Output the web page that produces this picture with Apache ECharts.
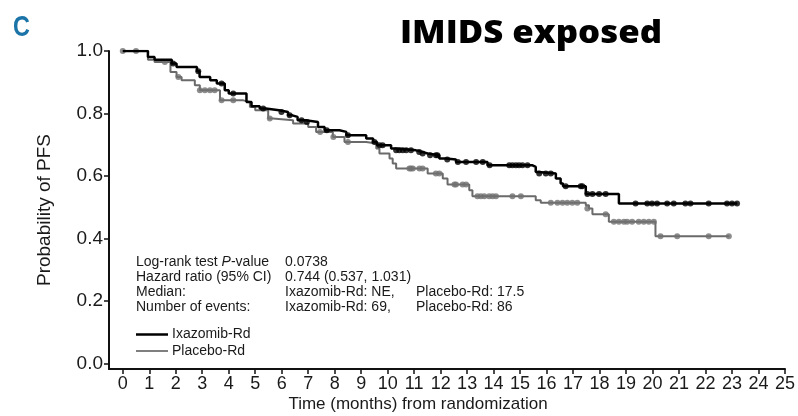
<!DOCTYPE html>
<html><head><meta charset="utf-8">
<script src="https://cdn.jsdelivr.net/npm/echarts@6/dist/echarts.min.js"></script>
<style>html,body{margin:0;padding:0;background:#fff}#c{width:798px;height:416px}</style>
</head><body><div id="c"></div>
<script>
// ---- data ----
const xTicks = [0,1,2,3,4,5,6,7,8,9,10,11,12,13,14,15,16,17,18,19,20,21,22,23,24,25];
const yTicks = [0, 0.2, 0.4, 0.6, 0.8, 1.0];

// Ixazomib-Rd KM steps
const ixaTimes = [0,0.95,1.2,1.85,2.03,2.8,2.9,3.3,3.55,3.85,4.0,4.67,4.86,5.17,5.4,5.9,6.24,6.4,6.6,6.9,7.37,7.62,8.18,8.44,9.19,9.45,9.6,10.13,10.3,11.07,11.3,11.51,11.95,12.2,12.58,13.77,15.47,15.59,15.7,16.35,16.53,16.62,17.48,18.73,23.2];
const ixaSurv  = [1.0,0.981,0.972,0.960,0.949,0.935,0.917,0.906,0.896,0.874,0.864,0.837,0.823,0.816,0.810,0.805,0.794,0.789,0.778,0.773,0.757,0.746,0.741,0.730,0.720,0.709,0.698,0.688,0.682,0.677,0.672,0.666,0.656,0.653,0.645,0.634,0.629,0.613,0.608,0.592,0.576,0.567,0.542,0.512,0.512];
// Ixazomib-Rd censor marks
const ixaCensT = [1.9,2.85,3.73,4.17,5.3,5.99,6.3,6.75,6.95,7.7,8.5,9.5,9.69,9.81,10.32,10.44,10.57,10.7,10.88,11.19,11.32,11.6,11.82,11.88,12.25,12.65,12.96,13.34,13.59,13.85,14.59,14.71,14.84,14.96,15.09,15.28,15.72,15.97,16.16,16.72,17.29,17.35,17.54,17.73,17.98,18.23,19.36,19.8,19.98,20.17,20.55,20.8,21.24,21.43,22.12,22.81,23.0,23.19];
const ixaCensS = [0.960,0.935,0.896,0.864,0.816,0.805,0.794,0.778,0.773,0.746,0.730,0.709,0.698,0.698,0.682,0.682,0.682,0.682,0.682,0.677,0.672,0.666,0.666,0.666,0.653,0.645,0.645,0.645,0.645,0.634,0.634,0.634,0.634,0.634,0.634,0.634,0.608,0.608,0.608,0.567,0.567,0.567,0.542,0.542,0.542,0.542,0.512,0.512,0.512,0.512,0.512,0.512,0.512,0.512,0.512,0.512,0.512,0.512];

// Placebo-Rd KM steps
const placTimes = [0,0.95,1.2,1.8,2.03,2.22,2.72,2.91,3.67,4.55,4.8,5.0,5.49,5.67,6.43,7.0,7.3,7.93,8.37,9.19,9.57,9.69,10.07,10.19,10.32,11.51,12.08,12.26,13.08,13.2,15.59,15.78,17.48,17.6,17.73,18.35,20.11,22.9];
const placSurv  = [1.0,0.972,0.965,0.933,0.917,0.906,0.890,0.874,0.842,0.837,0.821,0.810,0.784,0.778,0.768,0.757,0.741,0.725,0.709,0.704,0.688,0.672,0.656,0.640,0.624,0.608,0.592,0.573,0.554,0.535,0.522,0.514,0.506,0.496,0.477,0.453,0.407,0.407];
// Placebo-Rd censor marks
const placCensT = [0,0.5,1.59,2.1,2.91,3.1,3.29,3.47,3.73,4.17,5.55,7.45,7.95,8.5,10.82,10.88,10.95,11.2,11.32,11.82,11.95,12.52,12.58,12.83,12.96,13.39,13.52,13.65,13.83,13.96,14.09,14.71,15.03,16.16,16.41,16.6,16.78,16.97,17.16,17.54,18.23,18.54,18.73,18.92,19.04,19.23,19.48,19.67,19.86,20.05,20.3,20.93,22.12,22.88];
const placCensS = [1.0,1.0,0.965,0.917,0.874,0.874,0.874,0.874,0.842,0.842,0.784,0.741,0.725,0.709,0.624,0.624,0.624,0.624,0.624,0.608,0.608,0.573,0.573,0.573,0.573,0.535,0.535,0.535,0.535,0.535,0.535,0.535,0.535,0.514,0.514,0.514,0.514,0.514,0.514,0.496,0.477,0.453,0.453,0.453,0.453,0.453,0.453,0.453,0.453,0.453,0.407,0.407,0.407,0.407];

const title = 'IMIDS exposed';
const panel = 'C';
const xName = 'Time (months) from randomization';
const yName = 'Probability of PFS';
const statLabels = ['Log-rank test {i|P}-value', 'Hazard ratio (95% CI)', 'Median:', 'Number of events:'];
const statValues = ['0.0738', '0.744 (0.537, 1.031)', 'Ixazomib-Rd: NE,', 'Ixazomib-Rd: 69,'];
const statValues2 = ['', '', 'Placebo-Rd: 17.5', 'Placebo-Rd: 86'];
const legendNames = ['Ixazomib-Rd', 'Placebo-Rd'];

// ---- chart ----
const zip = (a, b) => a.map((v, i) => [v, b[i]]);
const FONT = '"Liberation Sans", Arial, Helvetica, sans-serif';
const TITLE_FONT = '800 32px "Open Sans", Lato, sans-serif';
const chart = echarts.init(document.getElementById('c'), null, {renderer: 'canvas'});

// fit title to the reference width
const mctx = document.createElement('canvas').getContext('2d');
mctx.font = TITLE_FONT;
const titleW = mctx.measureText(title).width || 262;
const titleScale = 262 / titleW;

const rowsY = [262.5, 277.5, 292.5, 307];
const graphics = [];
graphics.push({type: 'text', x: 13, y: 13, scaleX: 0.78, style: {text: panel, font: 'bold 30px ' + FONT, fill: '#1b74a8'}});
graphics.push({type: 'text', x: 531, y: 34, scaleX: titleScale, style: {text: title, font: TITLE_FONT, fill: '#000', align: 'center', verticalAlign: 'middle'}});
graphics.push({type: 'text', x: 45, y: 210, rotation: Math.PI / 2, style: {text: yName, font: '19px ' + FONT, fill: '#1a1a1a', align: 'center', verticalAlign: 'middle'}});
graphics.push({type: 'text', x: 418, y: 404, style: {text: xName, font: '17px ' + FONT, fill: '#1a1a1a', align: 'center', verticalAlign: 'middle'}});
statLabels.forEach((t, i) => {
  graphics.push({type: 'text', x: 136, y: rowsY[i], style: {text: t, font: '14px ' + FONT, fill: '#1a1a1a', verticalAlign: 'middle', rich: {i: {fontStyle: 'italic', fontSize: 14, fontFamily: FONT, fill: '#1a1a1a'}}}});
  graphics.push({type: 'text', x: 285, y: rowsY[i], style: {text: statValues[i], font: '14px ' + FONT, fill: '#1a1a1a', verticalAlign: 'middle'}});
  if (statValues2[i]) graphics.push({type: 'text', x: 416, y: rowsY[i], style: {text: statValues2[i], font: '14px ' + FONT, fill: '#1a1a1a', verticalAlign: 'middle'}});
});
const legY = [334.5, 351];
const legStyle = [{stroke: '#000', lineWidth: 2.5}, {stroke: '#555', lineWidth: 1.5}];
legendNames.forEach((n, i) => {
  graphics.push({type: 'line', shape: {x1: 136, y1: legY[i], x2: 168, y2: legY[i]}, style: legStyle[i]});
  graphics.push({type: 'text', x: 172, y: legY[i], style: {text: n, font: '14px ' + FONT, fill: '#1a1a1a', verticalAlign: 'middle'}});
});

chart.setOption({
  animation: false,
  backgroundColor: '#fff',
  grid: {left: 109, right: 11.5, top: 51, bottom: 47, containLabel: false},
  xAxis: {
    type: 'value', min: -0.52, max: 25,
    splitLine: {show: false},
    axisLine: {show: true, onZero: false, lineStyle: {color: '#111', width: 2}},
    axisTick: {show: true, length: 5, lineStyle: {color: '#111', width: 1.5}, customValues: xTicks},
    axisLabel: {show: true, margin: 6, color: '#1a1a1a', fontSize: 18, fontFamily: FONT, customValues: xTicks, formatter: v => String(v)}
  },
  yAxis: {
    type: 'value', min: -0.018, max: 1.0,
    splitLine: {show: false},
    axisLine: {show: true, onZero: false, lineStyle: {color: '#111', width: 2}},
    axisTick: {show: true, length: 5, lineStyle: {color: '#111', width: 1.5}, customValues: yTicks},
    axisLabel: {show: true, margin: 6, color: '#1a1a1a', fontSize: 19, fontFamily: FONT, customValues: yTicks, formatter: v => v.toFixed(1)}
  },
  series: [
    {name: legendNames[1], type: 'line', step: 'end', data: zip(placTimes, placSurv), showSymbol: false, symbol: 'none',
     lineStyle: {color: '#6a6a6a', width: 2}, z: 2},
    {name: legendNames[1] + ' censored', type: 'scatter', data: zip(placCensT, placCensS), symbol: 'circle', symbolSize: 6,
     itemStyle: {color: '#707070'}, z: 3},
    {name: legendNames[0], type: 'line', step: 'end', data: zip(ixaTimes, ixaSurv), showSymbol: false, symbol: 'none',
     lineStyle: {color: '#000', width: 2.5}, z: 4},
    {name: legendNames[0] + ' censored', type: 'scatter', data: zip(ixaCensT, ixaCensS), symbol: 'circle', symbolSize: 6,
     itemStyle: {color: '#000'}, z: 5}
  ],
  graphic: graphics
});
</script>
</body></html>
